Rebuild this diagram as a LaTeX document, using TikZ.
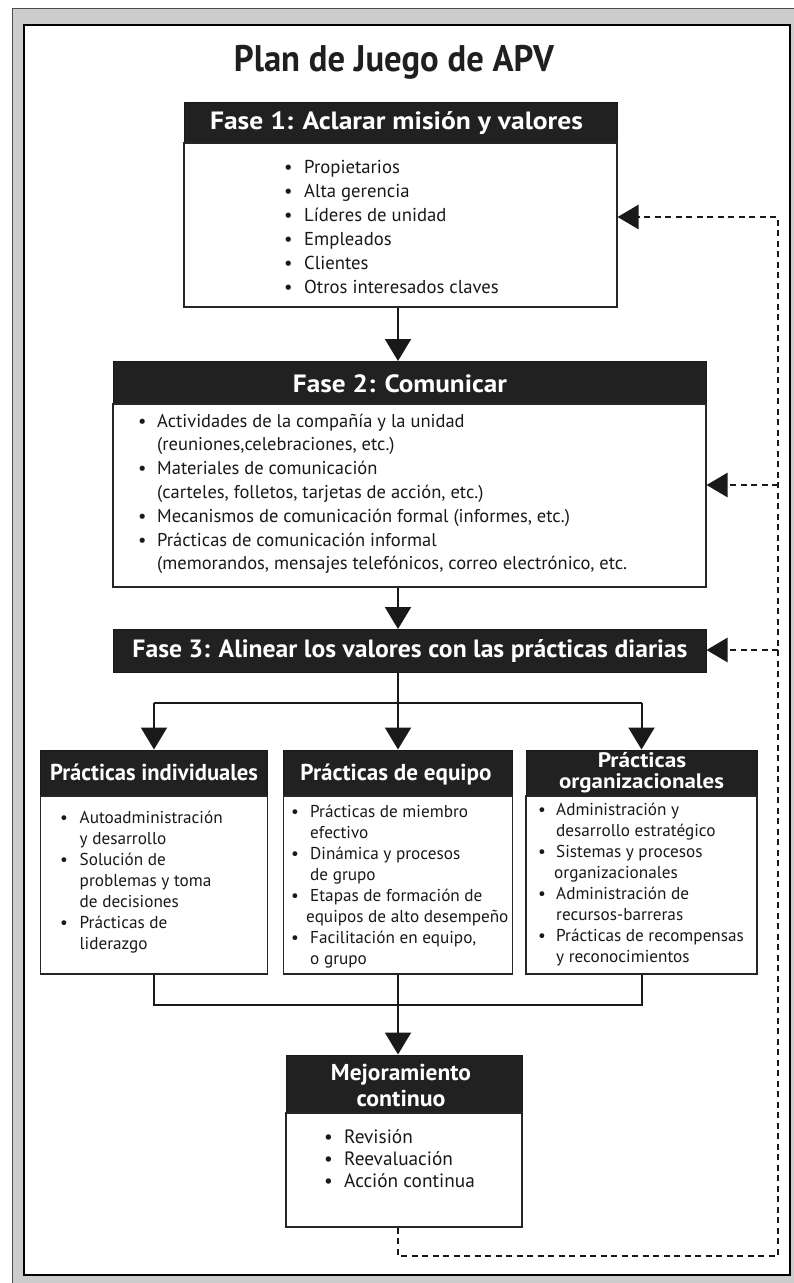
\documentclass[tikz,border=0pt]{standalone}
\usepackage{fontspec}
\setmainfont{PT Sans}
\usetikzlibrary{arrows.meta}
\newlength{\bw}
\newcommand{\bl}[1]{\makebox[\bw][l]{\textbullet}#1}
\newcommand{\cl}[1]{\hspace*{\bw}#1}
\newcommand{\fitw}[2]{\resizebox{#1}{\height}{#2}}
\begin{document}
\begin{tikzpicture}[x=1pt,y=-1pt,
  hdr/.style={draw=black!90, fill=black!87, line width=1pt, inner sep=0pt},
  bodybox/.style={draw=black!85, fill=white, line width=1.1pt, inner sep=0pt},
  htxt/.style={text=white, inner sep=0pt, anchor=base, font=\bfseries},
  listA/.style={inner sep=0pt, anchor=north west, text=black!90, font=\fontsize{18.7}{24}\selectfont},
  listB/.style={inner sep=0pt, anchor=north west, text=black!90, font=\fontsize{18.5}{23.8}\selectfont},
  listC/.style={inner sep=0pt, anchor=north west, text=black!90, font=\fontsize{17.2}{21.1}\selectfont},
  listD/.style={inner sep=0pt, anchor=north west, text=black!90, font=\fontsize{19.3}{22}\selectfont},
  conn/.style={line width=2pt, draw=black!90},
  arr/.style={conn, -{Triangle[length=22pt,width=26pt]}},
  dsh/.style={line width=2.8pt, draw=black!90, dash pattern=on 6pt off 4.5pt},
  darr/.style={dsh, -{Triangle[length=21pt,width=24pt]}}
]
\useasboundingbox (0,0) rectangle (794,1283);
% page frame
\fill[black!20] (12,8) rectangle (794,1283);
\draw[black!70, line width=0.8pt] (12,1283) -- (12,8) -- (794,8);
\draw[black, line width=1.6pt, fill=white] (24,25) rectangle (790,1275);

% title
\node[anchor=base, inner sep=0pt, text=black!88] (title) at (394,71)
  {\fitw{320pt}{\fontsize{37}{42}\selectfont\bfseries Plan de Juego de APV}};

% Fase 1
\node[hdr, minimum width=433pt, minimum height=41pt] (h1) at (400.5,122.5) {};
\node[bodybox, minimum width=433pt, minimum height=164pt] (b1) at (400.5,225) {};
\node[htxt] (t1) at (396.5,129) {\fitw{373pt}{\fontsize{25}{29}\selectfont Fase 1: Aclarar misión y valores}};
\node[listA] (l1) at (284,156.2) {\setlength{\bw}{20pt}\begin{tabular}{@{}l@{}}
\bl{Propietarios}\\
\bl{Alta gerencia}\\
\bl{Líderes de unidad}\\
\bl{Empleados}\\
\bl{Clientes}\\
\bl{Otros interesados claves}
\end{tabular}};

% Fase 2
\node[hdr, minimum width=593pt, minimum height=43pt] (h2) at (409.5,383) {};
\node[bodybox, minimum width=593pt, minimum height=183pt] (b2) at (409.5,495.5) {};
\node[htxt] (t2) at (400,392) {\fitw{214pt}{\fontsize{25}{29}\selectfont Fase 2: Comunicar}};
\node[listB] (l2) at (138,410.3) {\setlength{\bw}{19pt}\begin{tabular}{@{}l@{}}
\bl{Actividades de la compañía y la unidad}\\
\cl{(reuniones,celebraciones, etc.)}\\
\bl{Materiales de comunicación}\\
\cl{(carteles, folletos, tarjetas de acción, etc.)}\\
\bl{Mecanismos de comunicación formal (informes, etc.)}\\
\bl{Prácticas de comunicación informal}\\
\cl{(memorandos, mensajes telefónicos, correo electrónico, etc.}
\end{tabular}};

% Fase 3
\node[hdr, minimum width=593pt, minimum height=43pt] (h3) at (409.5,651) {};
\node[htxt] (t3) at (410,657) {\fitw{555pt}{\fontsize{25}{29}\selectfont Fase 3: Alinear los valores con las prácticas diarias}};

% three practice boxes
\node[hdr, minimum width=227pt, minimum height=46pt] (hL) at (154,773) {};
\node[bodybox, minimum width=227pt, minimum height=178pt] (bL) at (154,885) {};
\node[htxt] (tL) at (154,780) {\fitw{208pt}{\fontsize{23}{27}\selectfont Prácticas individuales}};
\node[listC] (lL) at (60,808.2) {\setlength{\bw}{19.5pt}\begin{tabular}{@{}l@{}}
\bl{Autoadministración}\\
\cl{y desarrollo}\\
\bl{Solución de}\\
\cl{problemas y toma}\\
\cl{de decisiones}\\
\bl{Prácticas de}\\
\cl{liderazgo}
\end{tabular}};

\node[hdr, minimum width=229pt, minimum height=46pt] (hM) at (398,773) {};
\node[bodybox, minimum width=229pt, minimum height=178pt] (bM) at (398,885) {};
\node[htxt] (tM) at (396,780) {\fitw{191pt}{\fontsize{23}{27}\selectfont Prácticas de equipo}};
\node[listC] (lM) at (291,802.2) {\setlength{\bw}{19pt}\begin{tabular}{@{}l@{}}
\bl{Prácticas de miembro}\\
\cl{efectivo}\\
\bl{Dinámica y procesos}\\
\cl{de grupo}\\
\bl{Etapas de formación de}\\
\hspace*{15pt}equipos de alto desempeño\\
\bl{Facilitación en equipo,}\\
\cl{o grupo}
\end{tabular}};

\node[hdr, minimum width=231pt, minimum height=46pt] (hR) at (641.5,773) {};
\node[bodybox, minimum width=231pt, minimum height=178pt] (bR) at (641.5,885) {};
\node[htxt] (tR1) at (642,767) {\fitw{88.5pt}{\fontsize{21}{24}\selectfont Prácticas}};
\node[htxt] (tR2) at (641.5,788.5) {\fitw{165pt}{\fontsize{21}{24}\selectfont organizacionales}};
\node[listC] (lR) at (538,800.2) {\setlength{\bw}{18pt}\begin{tabular}{@{}l@{}}
\bl{Administración y}\\
\cl{desarrollo estratégico}\\
\bl{Sistemas y procesos}\\
\hspace*{16pt}organizacionales\\
\bl{Administración de}\\
\cl{recursos-barreras}\\
\bl{Prácticas de recompensas}\\
\cl{y reconocimientos}
\end{tabular}};

% Mejoramiento continuo
\node[hdr, minimum width=236pt, minimum height=58pt] (hC) at (404,1084) {};
\node[bodybox, minimum width=236pt, minimum height=114pt] (bC) at (404,1170) {};
\node[htxt] (tC1) at (401,1080) {\fitw{140pt}{\fontsize{23}{27}\selectfont Mejoramiento}};
\node[htxt] (tC2) at (401,1106) {\fitw{89pt}{\fontsize{23}{27}\selectfont continuo}};
\node[listD] (lC) at (324,1127.6) {\setlength{\bw}{20pt}\begin{tabular}{@{}l@{}}
\bl{Revisión}\\
\bl{Reevaluación}\\
\bl{Acción continua}
\end{tabular}};

% coordinates for connectors
\coordinate (ax) at (398,0);
\coordinate (split) at (398,703);
\coordinate (join) at (398,1005);
\coordinate (d1) at (398,1256);
\coordinate (d2) at (778,1256);
\coordinate (d3) at (778,217);
\coordinate (d4) at (778,485);
\coordinate (d5) at (778,650);

% solid connectors
\draw[arr] (b1.south -| ax) -- (h2.north -| ax);
\draw[arr] (b2.south -| ax) -- (h3.north -| ax);
\draw[conn] (h3.south -| ax) -- (split);
\draw[conn] (hL.north |- split) -- (hR.north |- split);
\draw[arr] (hL.north |- split) -- (hL.north);
\draw[arr] (split) -- (hM.north);
\draw[arr] (hR.north |- split) -- (hR.north);
\draw[conn] (bL.south) -- (bL.south |- join) -- (bR.south |- join) -- (bR.south);
\draw[arr] (bM.south) -- (hC.north -| bM.south);

% dashed feedback
\draw[darr] (bC.south -| ax) -- (d1) -- (d2) -- (d3) -- (d3 -| b1.east);
\draw[darr] (d4) -- (d4 -| b2.east);
\draw[darr] (d5) -- (d5 -| h3.east);
\end{tikzpicture}
\end{document}
